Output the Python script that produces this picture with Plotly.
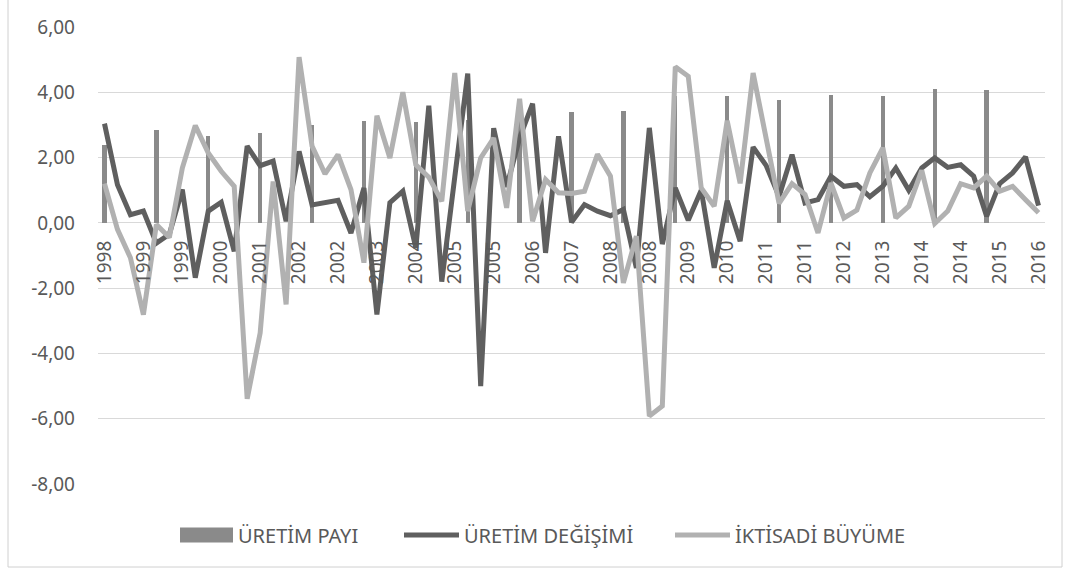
import plotly.graph_objects as go

# Quarterly periods 1998Q1 .. 2016Q1 (73 observations)
n_periods = 73
periods = list(range(n_periods))

# Category labels shown on every third quarter
tick_labels = [
    "1998", "1999", "1999", "2000", "2001", "2002", "2002", "2003", "2004",
    "2005", "2005", "2006", "2007", "2008", "2008", "2009", "2010", "2011",
    "2011", "2012", "2013", "2014", "2014", "2015", "2016",
]

# ÜRETİM PAYI - annual share, reported in the first quarter of each year (1998-2015)
uretim_payi_yillik = [2.40, 2.86, 2.67, 2.75, 3.01, 3.11, 3.08, 3.15, 3.25,
                      3.39, 3.42, 3.88, 3.88, 3.77, 3.93, 3.90, 4.10, 4.08]

# ÜRETİM DEĞİŞİMİ - quarterly change
uretim_degisimi = [
    3.04, 1.17, 0.25, 0.36, -0.62, -0.35, 1.02, -1.68, 0.36, 0.63,
    -0.87, 2.35, 1.75, 1.89, 0.05, 2.19, 0.55, 0.62, 0.69, -0.31,
    1.07, -2.81, 0.62, 0.97, -0.77, 3.59, -1.80, 1.40, 4.57, -5.00,
    2.90, 1.10, 2.60, 3.65, -0.92, 2.65, 0.02, 0.56, 0.36, 0.22,
    0.41, -1.38, 2.91, -0.65, 1.07, 0.08, 1.00, -1.38, 0.68, -0.56,
    2.32, 1.76, 0.81, 2.09, 0.61, 0.71, 1.43, 1.12, 1.17, 0.80,
    1.12, 1.68, 1.00, 1.68, 1.99, 1.70, 1.78, 1.43, 0.20, 1.20,
    1.53, 2.02, 0.53,
]

# İKTİSADİ BÜYÜME - quarterly growth
iktisadi_buyume = [
    1.20, -0.20, -1.07, -2.81, -0.05, -0.45, 1.68, 2.98, 2.14, 1.58,
    1.12, -5.39, -3.37, 1.27, -2.50, 5.08, 2.35, 1.50, 2.09, 1.02,
    -1.22, 3.28, 1.99, 4.00, 1.78, 1.40, 0.66, 4.59, 0.36, 1.99,
    2.60, 0.46, 3.80, 0.05, 1.33, 0.92, 0.90, 0.97, 2.10, 1.43,
    -1.84, -0.41, -5.92, -5.61, 4.78, 4.49, 1.07, 0.51, 3.13, 1.21,
    4.59, 2.60, 0.60, 1.20, 0.87, -0.31, 1.22, 0.15, 0.39, 1.53,
    2.30, 0.15, 0.51, 1.61, -0.02, 0.36, 1.20, 1.07, 1.43, 0.97,
    1.12, 0.71, 0.31,
]

y_ticks = [6, 4, 2, 0, -2, -4, -6, -8]
y_tick_text = [f"{v:.2f}".replace(".", ",") for v in y_ticks]

# place the annual values on the first quarter of each year
uretim_payi = [None] * n_periods
for k, v in enumerate(uretim_payi_yillik):
    uretim_payi[4 * k] = v

FONT = "Noto Sans"
TEXT = "#595959"
BAR_COLOR = "#8a8a8a"
DARK = "#5f5f5f"
LIGHT = "#b1b1b1"

# plot area in pixels (figure 1070 x 575)
L, R, T, B = 98, 1045, 27, 484
PW, PH = R - L, B - T


def px(x):
    return (x - L) / PW


def py(y):
    return (B - y) / PH


fig = go.Figure()
fig.add_trace(go.Bar(
    x=periods, y=uretim_payi, name="ÜRETİM PAYI",
    marker=dict(color=BAR_COLOR, line=dict(width=0)), width=0.34,
))
fig.add_trace(go.Scatter(
    x=periods, y=uretim_degisimi, name="ÜRETİM DEĞİŞİMİ", mode="lines",
    line=dict(color=DARK, width=5),
))
fig.add_trace(go.Scatter(
    x=periods, y=iktisadi_buyume, name="İKTİSADİ BÜYÜME", mode="lines",
    line=dict(color=LIGHT, width=5),
))

# legend row below the chart: swatch + label for each series
legend_y = 535
legend_items = [
    ("bar", "ÜRETİM PAYI", BAR_COLOR, 180, 233),
    ("line", "ÜRETİM DEĞİŞİMİ", DARK, 404, 459),
    ("line", "İKTİSADİ BÜYÜME", LIGHT, 675, 730),
]
shapes = [dict(
    type="rect", xref="paper", yref="paper",
    x0=px(8), x1=px(1062), y0=py(567), y1=py(-2),
    line=dict(color="#d0d0d0", width=1), fillcolor="rgba(0,0,0,0)", layer="below",
)]
annotations = []
for kind, label, color, x0, x1 in legend_items:
    if kind == "bar":
        shapes.append(dict(
            type="rect", xref="paper", yref="paper",
            x0=px(x0), x1=px(x1), y0=py(legend_y + 7.5), y1=py(legend_y - 7.5),
            line=dict(width=0), fillcolor=color,
        ))
    else:
        shapes.append(dict(
            type="line", xref="paper", yref="paper",
            x0=px(x0), x1=px(x1), y0=py(legend_y), y1=py(legend_y),
            line=dict(color=color, width=5),
        ))
    annotations.append(dict(
        xref="paper", yref="paper", x=px(x1 + 3), y=py(legend_y),
        xanchor="left", yanchor="middle", text=label, showarrow=False,
        font=dict(family=FONT, size=20, color=TEXT),
    ))

y_min, y_max = -8, 6
fig.update_layout(
    width=1070, height=575, autosize=False,
    margin=dict(l=L, r=1070 - R, t=T, b=575 - B),
    paper_bgcolor="white", plot_bgcolor="white",
    font=dict(family=FONT, color=TEXT, size=19),
    showlegend=False,
    bargap=0,
    xaxis=dict(
        range=[-0.5, n_periods - 0.5],
        tickmode="array", tickvals=list(range(0, n_periods, 3)), ticktext=tick_labels,
        tickangle=-90, showgrid=False, zeroline=False, showline=False, ticks="",
        anchor="free", position=(0 - y_min) / (y_max - y_min),
        tickfont=dict(size=19, color=TEXT), ticklabelstandoff=13,
    ),
    yaxis=dict(
        range=[y_min, y_max],
        tickmode="array", tickvals=y_ticks, ticktext=y_tick_text,
        showgrid=True, gridcolor="#d9d9d9", gridwidth=1.3,
        zeroline=False, showline=False, ticks="",
        tickfont=dict(size=19, color=TEXT), ticklabelstandoff=22,
    ),
    shapes=shapes,
    annotations=annotations,
)

fig.write_html("out.html")
